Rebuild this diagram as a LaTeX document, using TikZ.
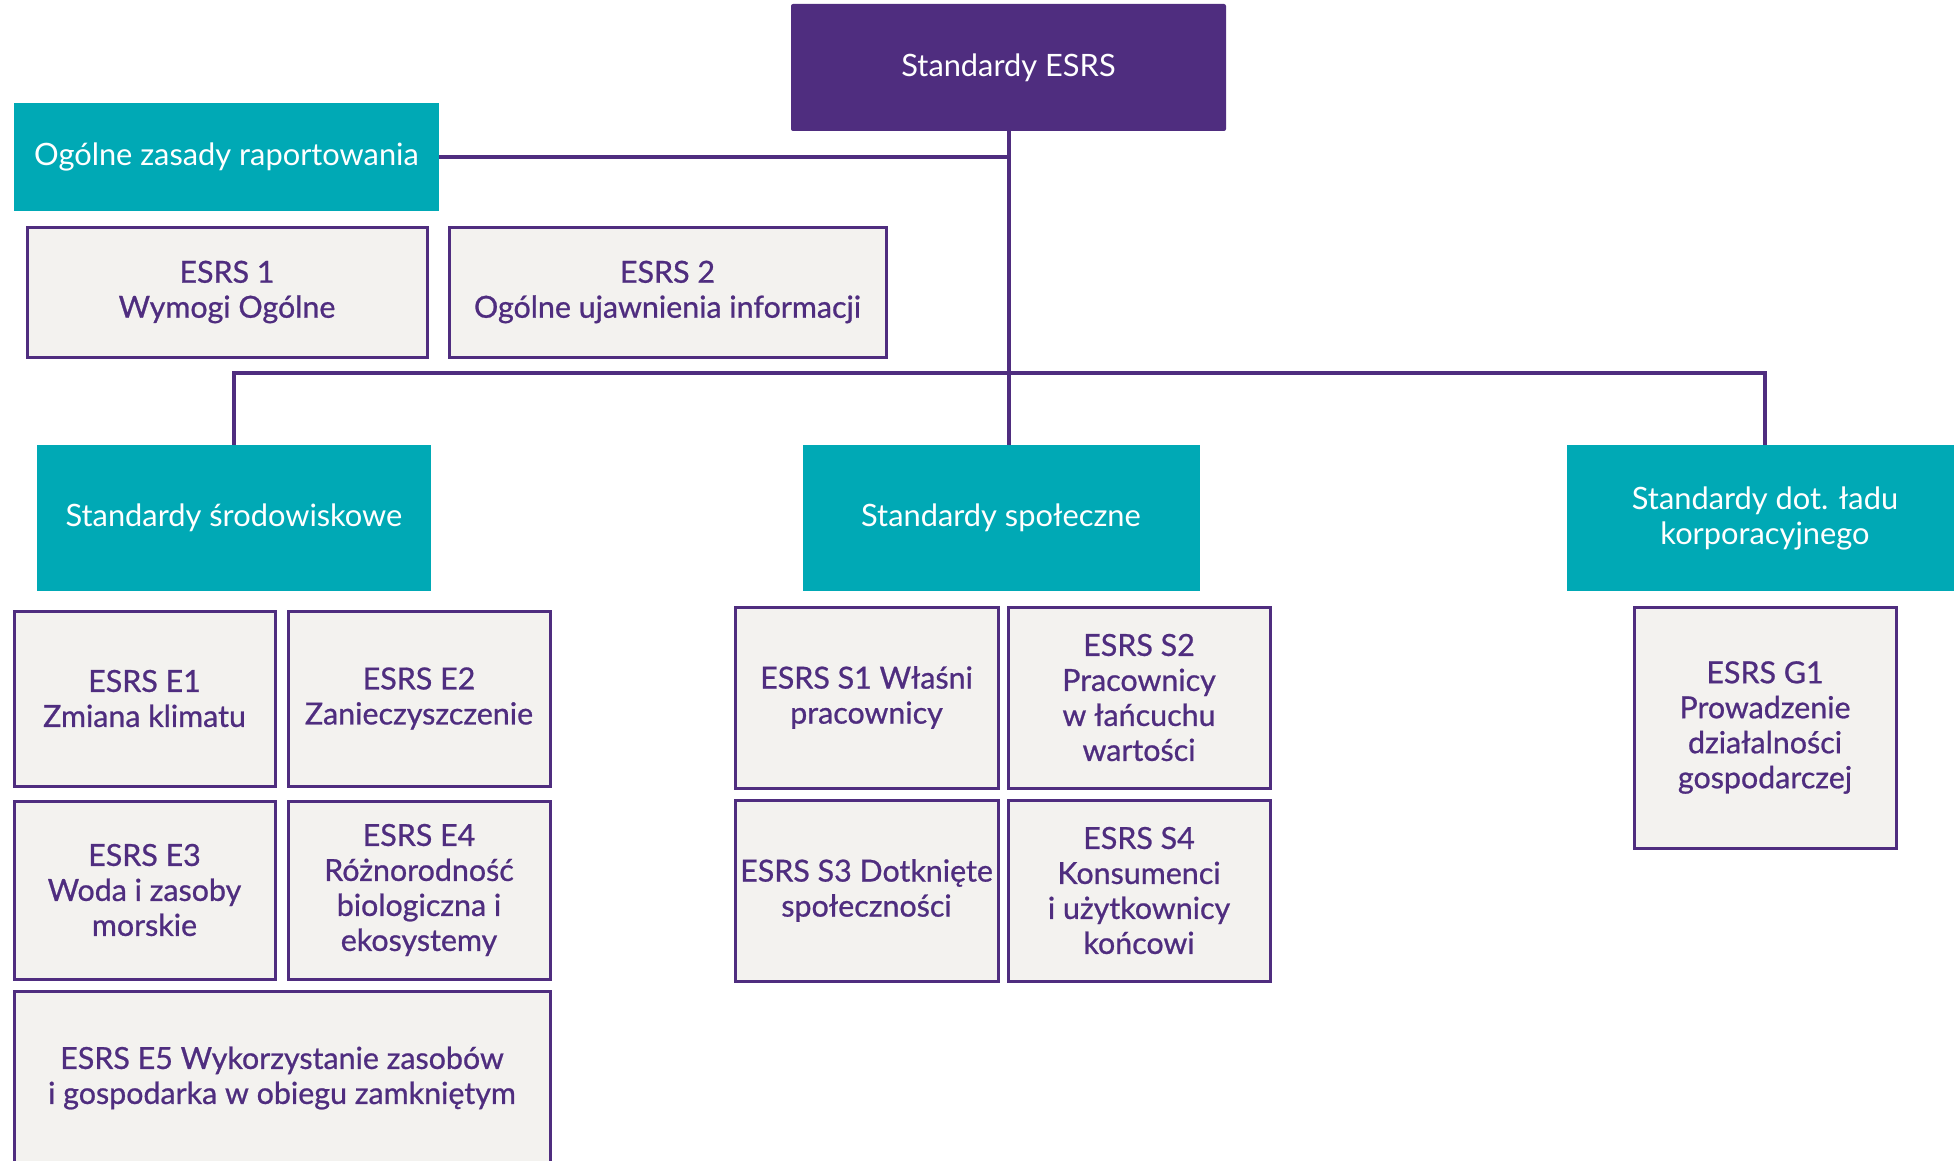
\documentclass[tikz,border=0pt]{standalone}
\usepackage{fontspec}
\setmainfont{Lato}
\newfontfamily\purpfont[FakeBold=0.8]{Lato}
\definecolor{esrspurple}{HTML}{4F2D7F}
\definecolor{esrsteal}{HTML}{00A9B5}
\definecolor{esrsgray}{HTML}{F3F2EF}
\begin{document}
\begin{tikzpicture}[x=0.5pt,y=-0.5pt,
  base/.style={inner sep=0pt, align=center, font=\fontsize{15.4}{17.5}\selectfont},
  sz/.style 2 args={minimum width=#1*0.5pt, minimum height=#2*0.5pt},
  head/.style={base, fill=esrspurple, text=white, rounded corners=1pt},
  cat/.style={base, fill=esrsteal, text=white},
  item/.style={base, font=\purpfont\fontsize{15.2}{17.5}\selectfont, fill=esrsgray, draw=esrspurple, line width=1.5pt, text=esrspurple},
  link/.style={draw=esrspurple, line width=2pt}]
\useasboundingbox (0,0) rectangle (1954,1161);
\node[head, sz={435}{127}] (top) at (1008.5,67.5) {Standardy ESRS};
\node[cat, sz={425}{108}] (ogolne) at (226.5,157) {Ogólne zasady raportowania};
\node[item, sz={400}{130}] (esrs1) at (227,292) {ESRS 1\\Wymogi Ogólne};
\node[item, sz={437}{130}] (esrs2) at (667.5,292) {ESRS 2\\Ogólne ujawnienia informacji};
\node[cat, sz={394}{146}] (srod) at (234,518) {Standardy środowiskowe};
\node[cat, sz={397}{146}] (spol) at (1001,518) {Standardy społeczne};
\node[cat, sz={396}{146}] (gov) at (1765,518) {Standardy dot. ładu\\korporacyjnego};
\node[item, sz={261}{175}] (e1) at (144.5,698.5) {ESRS E1\\Zmiana klimatu};
\node[item, sz={262}{175}] (e2) at (419,698.5) {ESRS E2\\Zanieczyszczenie};
\node[item, sz={261}{178}] (e3) at (144.5,890) {ESRS E3\\Woda i zasoby\\morskie};
\node[item, sz={262}{178}] (e4) at (419,890) {ESRS E4\\Różnorodność\\biologiczna i\\ekosystemy};
\node[item, sz={536}{174}] (e5) at (282,1078) {ESRS E5 Wykorzystanie zasobów\\i gospodarka w obiegu zamkniętym};
\node[item, sz={263}{181}] (s1) at (866.5,697.5) {ESRS S1 Właśni\\pracownicy};
\node[item, sz={262}{181}] (s2) at (1139,697.5) {ESRS S2\\Pracownicy\\w łańcuchu\\wartości};
\node[item, sz={263}{181}] (s3) at (866.5,890.5) {ESRS S3 Dotknięte\\społeczności};
\node[item, sz={262}{181}] (s4) at (1139,890.5) {ESRS S4\\Konsumenci\\i użytkownicy\\końcowi};
\node[item, sz={262}{241}] (g1) at (1765,727.5) {ESRS G1\\Prowadzenie\\działalności\\gospodarczej};
\coordinate (bar) at (1008,373);
\draw[link] (ogolne.east) -- (ogolne.east -| top.south);
\draw[link] (top.south) -- (top.south |- spol.north);
\draw[link] (srod.north) |- (bar) -| (gov.north);
\end{tikzpicture}
\end{document}
